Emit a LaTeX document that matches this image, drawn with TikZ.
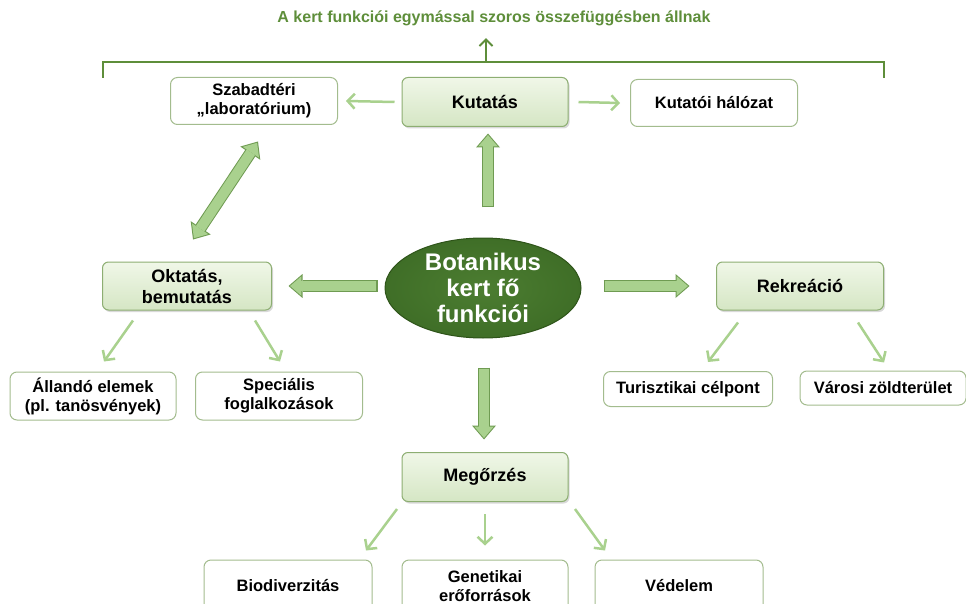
\documentclass[tikz,border=0pt]{standalone}
\usepackage{fontspec}
\setmainfont{Liberation Sans}
\usetikzlibrary{
  shapes.geometric, arrows.meta, positioning, calc, shadows
}
\definecolor{leafdark}{HTML}{3F6E27}
\definecolor{leaflight}{HTML}{4C7D31}
\definecolor{leafedge}{HTML}{2E5419}
\definecolor{titlegreen}{HTML}{5E8E3A}
\definecolor{softgreen}{HTML}{A9D18E}
\definecolor{arrowedge}{HTML}{6F9B52}
\definecolor{boxedge}{HTML}{A3BC8E}
\definecolor{mainedge}{HTML}{8DAE72}
\definecolor{maintop}{HTML}{F0F7E8}
\definecolor{mainbot}{HTML}{D5E6C4}
\tikzset{
  fathead/.tip={Triangle[width=24pt,length=14pt,line width=0pt]},
  fatheadcore/.tip={Triangle[width=19.5pt,length=11.3pt,line width=0pt]},
  mainbox/.style={
    rectangle, rounded corners=6pt, minimum width=166pt, minimum height=49pt,
    align=center, font=\fontsize{18}{21}\selectfont\bfseries,
    draw=mainedge, line width=1pt, top color=maintop, bottom color=mainbot,
    drop shadow={shadow xshift=1.5pt, shadow yshift=-2pt, opacity=0.3}
  },
  subbox/.style={
    rectangle, rounded corners=7pt, minimum width=167pt, minimum height=47pt,
    align=center, font=\fontsize{16.5}{19}\selectfont\bfseries,
    draw=boxedge, line width=1pt, fill=white
  },
  hub/.style={
    ellipse, minimum width=196pt, minimum height=100pt, inner sep=0pt,
    align=center, font=\fontsize{24}{26}\selectfont\bfseries, text=white,
    draw=leafedge, line width=1pt, inner color=leaflight, outer color=leafdark
  },
  headline/.style={
    font=\fontsize{16}{19}\selectfont\bfseries, text=titlegreen
  },
  flow/.style={
    -{Straight Barb[length=7pt,width=15pt]}, line width=2.5pt, softgreen
  },
  fatedge/.style={draw=arrowedge, line width=12pt, >=fathead},
  fatcore/.style={draw=softgreen, line width=10pt, >=fatheadcore,
    shorten <=1.6pt, shorten >=1.6pt},
  bracket/.style={titlegreen, line width=2pt}
}
\newcommand{\fatarrow}[3]{%
  \draw[fatedge, #1] #2 -- #3;
  \draw[fatcore, #1] #2 -- #3;}

\begin{document}
\begin{tikzpicture}[x=1pt, y=-1pt]
  \useasboundingbox (0,0) rectangle (966,604);

  % Title and bracket
  \node[headline] (title) at (494,18) {A kert funkciói egymással szoros összefüggésben állnak};
  \coordinate (brL) at (103,78);
  \coordinate (brR) at (884,78);
  \draw[bracket] (brL) -- (103,62) -- (884,62) -- (brR);
  \coordinate (brmid) at (486,62);
  \coordinate (tip) at (brmid |- title.south);
  \draw[bracket, -{Straight Barb[length=6.5pt,width=13pt]}] (brmid) -- ([yshift=-9pt]tip);

  % Centre
  \node[hub] (hub) at (483,288) {Botanikus\\kert fő\\funkciói};

  % Main functions
  \node[mainbox] (kutatas) at (485,102) {Kutatás};
  \node[mainbox, minimum width=169pt, minimum height=48pt] (oktatas) at (187,286) {Oktatás,\\bemutatás};
  \node[mainbox, minimum width=167pt, minimum height=48pt] (rekreacio) at (800,286) {Rekreáció};
  \node[mainbox] (megorzes) at (485,477) {Megőrzés};

  % Sub items
  \node[subbox] (szabad) at (254,101) {Szabadtéri\\„laboratórium)};
  \node[subbox] (halozat) at (714,103) {Kutatói hálózat};
  \node[subbox, minimum width=166pt, minimum height=48pt] (allando) at (93,396) {Állandó elemek\\(pl. tanösvények)};
  \node[subbox, minimum height=48pt] (specialis) at (279,396) {Speciális\\foglalkozások};
  \node[subbox, minimum width=169pt, minimum height=35pt] (turiszt) at (688,389) {Turisztikai célpont};
  \node[subbox, minimum width=166pt, minimum height=34pt] (varosi) at (883,388) {Városi zöldterület};
  \node[subbox, minimum width=168pt, minimum height=52pt] (biodiv) at (288,586) {Biodiverzitás};
  \node[subbox, minimum width=166pt, minimum height=52pt] (genetika) at (485,586) {Genetikai\\erőforrások};
  \node[subbox, minimum width=168pt, minimum height=52pt] (vedelem) at (679,586) {Védelem};

  % Block arrows from the centre
  \fatarrow{->}{([shift={(5,-30)}]hub.north)}{([shift={(3,6.5)}]kutatas.south)}
  \fatarrow{->}{([shift={(-7,-2)}]hub.west)}{([xshift=16.5pt]oktatas.east)}
  \fatarrow{->}{([shift={(22,-2)}]hub.east)}{([xshift=-26.5pt]rekreacio.west)}
  \fatarrow{->}{([shift={(1,29)}]hub.south)}{([shift={(-1,-12.5)}]megorzes.north)}
  \fatarrow{<->}{([shift={(6,-22)}]oktatas.north)}{([shift={(4,16.5)}]szabad.south)}

  % Thin arrows
  \draw[flow] ([xshift=-7pt]kutatas.west) -- ([xshift=8pt]szabad.east);
  \draw[flow] ([xshift=10pt]kutatas.east) -- ([xshift=-10pt]halozat.west);
  \draw[flow] ([shift={(-54,10)}]oktatas.south) -- ([shift={(11,-10)}]allando.north);
  \draw[flow] ([shift={(68,10)}]oktatas.south) -- ([shift={(1,-10)}]specialis.north);
  \draw[flow] ([shift={(-62,12)}]rekreacio.south) -- ([shift={(20,-9)}]turiszt.north);
  \draw[flow] ([shift={(58,12)}]rekreacio.south) -- ([shift={(1,-8)}]varosi.north);
  \draw[flow] ([shift={(-88,7)}]megorzes.south) -- ([shift={(78,-9)}]biodiv.north);
  \draw[flow] ([shift={(0,12)}]megorzes.south) -- ([shift={(0,-14)}]genetika.north);
  \draw[flow] ([shift={(90,7)}]megorzes.south) -- ([shift={(-74,-9)}]vedelem.north);

\end{tikzpicture}
\end{document}
